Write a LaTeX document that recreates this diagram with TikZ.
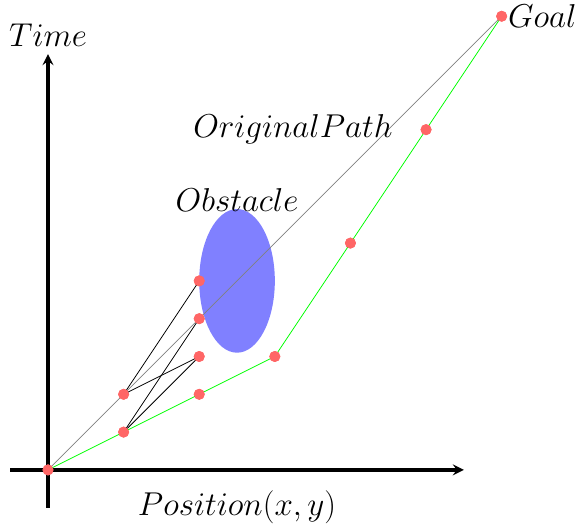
\documentclass[tikz,border=0pt]{standalone}
\usepackage{amsmath}
\usepackage{tikz}
\usetikzlibrary{positioning}

\begin{document}
\begin{tikzpicture}[>=stealth,
  pt/.style={circle,fill=red!60,inner sep=0pt,minimum size=2.9mm},
  lbl/.style={font=\Huge},
  ax/.style={->,line width=2.6pt},
  seg/.style={line width=0.6pt}]
\useasboundingbox (-1.27,-1.43) rectangle (13.94,12.43);
\fill[blue!50] (5,5) ellipse (1cm and 1.9cm);
\coordinate (xs) at (-1,0); \coordinate (xe) at (11,0);
\coordinate (ys) at (0,-1); \coordinate (ye) at (0,11);
\draw[ax] (xs)--(xe); \draw[ax] (ys)--(ye);
\node[pt] (o) at (0,0) {};
\node[pt] (a1) at (2,1) {};
\node[pt] (a2) at (2,2) {};
\node[pt] (b2) at (4,2) {};
\node[pt] (b3) at (4,3) {};
\node[pt] (b4) at (4,4) {};
\node[pt] (b5) at (4,5) {};
\node[pt] (c) at (6,3) {};
\node[pt] (d) at (8,6) {};
\node[pt] (e) at (10,9) {};
\node[pt] (g) at (12,12) {};
\draw[seg,gray] (o.center)--(g.center);
\draw[seg,green] (o.center)--(a1.center)--(b2.center)--(c.center)--(d.center)--(e.center)--(g.center);
\draw[seg] (a2.center)--(b5.center); \draw[seg] (a2.center)--(b3.center);
\draw[seg] (a1.center)--(b4.center); \draw[seg] (a1.center)--(b3.center);
\foreach \p in {o,a1,a2,b2,b3,b4,b5,c,d,e,g} \node[pt] at (\p) {};
\node[lbl] (t) at (0,11.5) {$Time$};
\node[lbl] (px) at (5,-0.98) {$Position(x,y)$};
\node[lbl] (ob) at (5,7.14) {$Obstacle$};
\node[lbl] (op) at (6.48,9) {$OriginalPath$};
\node[lbl,right=-3pt of g] (gl) {$Goal$};
\end{tikzpicture}
\end{document}
